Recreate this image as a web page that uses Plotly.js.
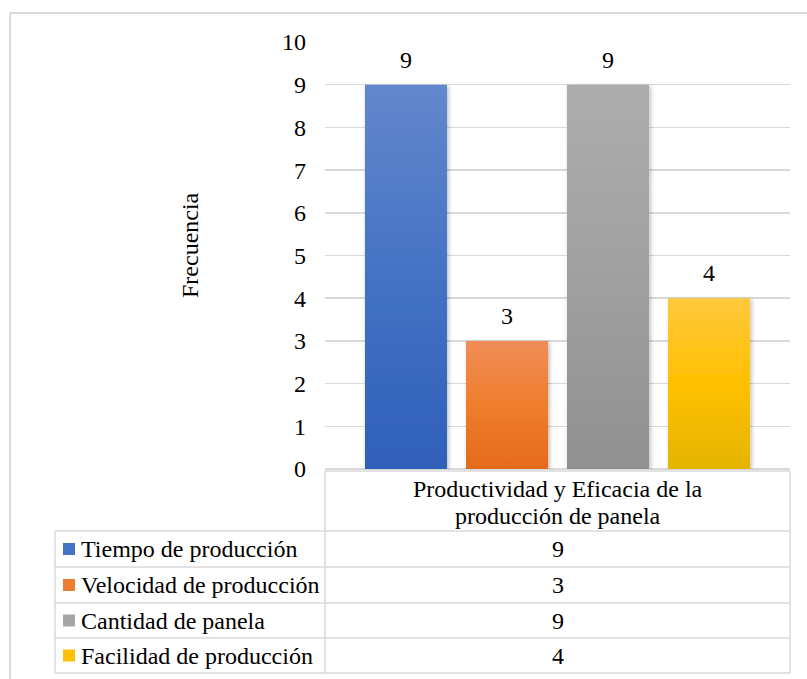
<!DOCTYPE html>
<html>
<head>
<meta charset="utf-8">
<script src="https://cdn.plot.ly/plotly-3.0.1.min.js"></script>
<style>
  html, body { margin: 0; padding: 0; background: #ffffff; }
  #chart { width: 807px; height: 679px; }
  #chart text { font-family: 'Liberation Serif', 'Times New Roman', serif !important; }
</style>
</head>
<body>
<div id="chart"></div>
<script>
// ---- data ----
const categories = ['Productividad y Eficacia de la<br>producción de panela'];
const seriesNames = ['Tiempo de producción', 'Velocidad de producción', 'Cantidad de panela', 'Facilidad de producción'];
const seriesValues = [9, 3, 9, 4];
const yTicks = [0, 1, 2, 3, 4, 5, 6, 7, 8, 9, 10];
const yLabel = 'Frecuencia';

// ---- style ----
const FONT = 'Liberation Serif';
const FS = 24;
const GRID = '#d9d9d9';
const baseColors = ['#4472c4', '#ed7d31', '#a5a5a5', '#ffc000'];
const gradStops = [
  ['#6287cd', '#4472c4', '#2f60b9'],
  ['#f08d57', '#ef7d2c', '#e46b1c'],
  ['#adadad', '#a0a0a0', '#909090'],
  ['#ffc83d', '#ffc000', '#e5b400']
];

// plot-area geometry (pixels) and helpers to place table pieces in paper units
const W = 807, H = 679;
const M = { l: 325, r: 17, t: 42, b: 210 };
const PW = W - M.l - M.r, PH = H - M.t - M.b;
const plotBottom = H - M.b;
const px = x => (x - M.l) / PW;
const py = y => (plotBottom - y) / PH;

const traces = seriesNames.map((name, i) => ({
  type: 'bar',
  name: name,
  x: categories,
  y: [seriesValues[i]],
  marker: { color: baseColors[i], line: { width: 0 } },
  text: [String(seriesValues[i])],
  textposition: 'outside',
  textfont: { family: FONT, size: FS, color: '#000000' },
  cliponaxis: false,
  hoverinfo: 'none'
}));

// ---- data table under the plot ----
const shapes = [];
const annotations = [];
const line = (x0, y0, x1, y1, color, width) => shapes.push({
  type: 'line', xref: 'paper', yref: 'paper',
  x0: px(x0), y0: py(y0), x1: px(x1), y1: py(y1),
  line: { color: color || GRID, width: width || 1.5 }
});

// chart frame
line(10, 13, 807, 13, '#d9d9d9', 2);
line(10, 13, 10, 679, '#d9d9d9', 2);

// vertical axis label, set a little above the middle of the value axis
annotations.push({
  xref: 'paper', yref: 'paper', x: px(190), y: py(245),
  text: yLabel, textangle: -90, showarrow: false,
  xanchor: 'center', yanchor: 'middle',
  font: { family: FONT, size: FS, color: '#000000' }
});

const tLeft = 55, tSplit = 325, tRight = 790, tTop = 471;
const rowEdges = [531, 567, 603, 638, 673];
line(tSplit, tTop, tRight, tTop);
rowEdges.forEach(y => line(tLeft, y, tRight, y));
line(tSplit, tTop, tSplit, rowEdges[rowEdges.length - 1]);
line(tRight, tTop, tRight, rowEdges[rowEdges.length - 1]);
line(tLeft, rowEdges[0], tLeft, rowEdges[rowEdges.length - 1]);

const colCenter = (tSplit + tRight) / 2;

// header: category name, one annotation per line for tighter leading
categories[0].split('<br>').forEach((txt, k) => annotations.push({
  xref: 'paper', yref: 'paper', x: px(colCenter), y: py(489 + k * 27),
  text: txt, showarrow: false, xanchor: 'center', yanchor: 'middle',
  font: { family: FONT, size: FS, color: '#000000' }
}));

seriesNames.forEach((name, i) => {
  const yc = (rowEdges[i] + rowEdges[i + 1]) / 2;
  shapes.push({
    type: 'rect', xref: 'paper', yref: 'paper',
    x0: px(63), x1: px(75), y0: py(yc - 6), y1: py(yc + 6),
    fillcolor: baseColors[i], line: { width: 0 }
  });
  annotations.push({
    xref: 'paper', yref: 'paper', x: px(79), y: py(yc),
    text: name, showarrow: false, xanchor: 'left', yanchor: 'middle',
    font: { family: FONT, size: FS, color: '#000000' }
  });
  annotations.push({
    xref: 'paper', yref: 'paper', x: px(colCenter), y: py(yc),
    text: String(seriesValues[i]), showarrow: false, xanchor: 'center', yanchor: 'middle',
    font: { family: FONT, size: FS, color: '#000000' }
  });
});

const layout = {
  width: W, height: H,
  margin: M,
  paper_bgcolor: '#ffffff',
  plot_bgcolor: '#ffffff',
  showlegend: false,
  barmode: 'group',
  bargap: 0.131,
  bargroupgap: 0.188,
  font: { family: FONT, size: FS, color: '#000000' },
  xaxis: {
    type: 'category',
    showticklabels: false, ticks: '',
    showgrid: false, zeroline: false, showline: false,
    fixedrange: true
  },
  yaxis: {
    range: [0, 10],
    tickvals: yTicks,
    ticktext: yTicks.map(String),
    ticks: '',
    ticklabelstandoff: 18,
    tickfont: { family: FONT, size: FS, color: '#000000' },
    showgrid: true, gridcolor: GRID, gridwidth: 1.5,
    zeroline: true, zerolinecolor: GRID, zerolinewidth: 1.5,
    showline: false,
    fixedrange: true
  },
  shapes: shapes,
  annotations: annotations
};

const gd = document.getElementById('chart');

// vertical gradient fill and soft shadow on the columns
function styleBars() {
  const svg = gd.querySelector('.main-svg');
  if (!svg) return;
  let defs = svg.querySelector('defs');
  if (!defs) { defs = document.createElementNS('http://www.w3.org/2000/svg', 'defs'); svg.prepend(defs); }
  const NS = 'http://www.w3.org/2000/svg';
  if (!svg.querySelector('#barShadow')) {
    const f = document.createElementNS(NS, 'filter');
    f.setAttribute('id', 'barShadow');
    f.setAttribute('x', '-20%'); f.setAttribute('y', '-10%');
    f.setAttribute('width', '140%'); f.setAttribute('height', '120%');
    const ds = document.createElementNS(NS, 'feDropShadow');
    ds.setAttribute('dx', '1.5'); ds.setAttribute('dy', '1.5');
    ds.setAttribute('stdDeviation', '2');
    ds.setAttribute('flood-color', '#000000');
    ds.setAttribute('flood-opacity', '0.28');
    f.appendChild(ds);
    defs.appendChild(f);
    gradStops.forEach((stops, i) => {
      const g = document.createElementNS(NS, 'linearGradient');
      g.setAttribute('id', 'barGrad' + i);
      g.setAttribute('x1', '0'); g.setAttribute('y1', '0');
      g.setAttribute('x2', '0'); g.setAttribute('y2', '1');
      stops.forEach((c, k) => {
        const s = document.createElementNS(NS, 'stop');
        s.setAttribute('offset', String(k / (stops.length - 1)));
        s.setAttribute('stop-color', c);
        g.appendChild(s);
      });
      defs.appendChild(g);
    });
  }
  gd.querySelectorAll('.barlayer .trace').forEach((tr, i) => {
    tr.querySelectorAll('path').forEach(p => {
      p.style.fill = 'url(#barGrad' + i + ')';
      p.setAttribute('filter', 'url(#barShadow)');
    });
    tr.querySelectorAll('text.bartext').forEach(t => {
      if (!t.dataset.lifted) {
        const tf = t.getAttribute('transform') || '';
        t.setAttribute('transform', 'translate(0,-9) ' + tf);
        t.dataset.lifted = '1';
      }
    });
  });
}

Plotly.newPlot(gd, traces, layout, { staticPlot: true, displayModeBar: false }).then(styleBars);
gd.on && gd.on('plotly_afterplot', styleBars);
</script>
</body>
</html>
